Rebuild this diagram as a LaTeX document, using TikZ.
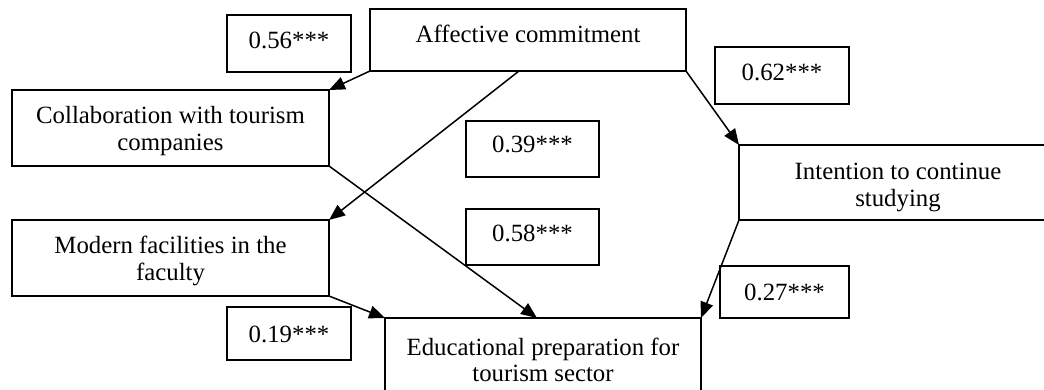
\documentclass[tikz,border=0pt]{standalone}
\usepackage{fontspec}
\setmainfont{Liberation Serif}
\usetikzlibrary{arrows.meta,calc}
\newcommand{\twolines}[2]{\parbox[t]{310pt}{\centering #1\\#2}}
\begin{document}
\begin{tikzpicture}[x=1pt,y=-1pt,
  box/.style={draw,line width=1.5pt,inner sep=0pt,outer sep=0pt,rectangle,
    font=\fontsize{24.8}{26.5}\selectfont},
  arr/.style={line width=1.5pt,-{Triangle[length=16pt,width=13pt]}}]
\useasboundingbox (0,0) rectangle (1044,390);
\clip (0,0) rectangle (1044,390);
% main boxes
\node[box,minimum width=316pt,text height=34pt,text depth=28pt] (aff) at (528,40) {Affective commitment};
\node[box,minimum width=317pt,text height=34pt,text depth=42pt] (collab) at (170.5,128) {\twolines{Collaboration with tourism}{companies}};
\node[box,minimum width=317pt,text height=34pt,text depth=42pt] (modern) at (170.5,258) {\twolines{Modern facilities in the}{faculty}};
\node[box,minimum width=318pt,text height=35pt,text depth=40pt] (intent) at (898,182.5) {\twolines{Intention to continue}{studying}};
\node[box,minimum width=316pt,text height=37pt,text depth=43pt] (educ) at (543,358) {\twolines{Educational preparation for}{tourism sector}};
% coefficient boxes
\node[box,minimum width=124pt,text height=34pt,text depth=23pt] (n56) at (289,43.5) {0.56***};
\node[box,minimum width=133pt,text height=32pt,text depth=24pt] (n39) at (532.5,149) {0.39***};
\node[box,minimum width=134pt,text height=34pt,text depth=23pt] (n62) at (782,75.5) {0.62***};
\node[box,minimum width=133pt,text height=32pt,text depth=24pt] (n58) at (532.5,237) {0.58***};
\node[box,minimum width=124pt,text height=35pt,text depth=18pt] (n19) at (289,333.5) {0.19***};
\node[box,minimum width=129pt,text height=34pt,text depth=18pt] (n27) at (784.5,292) {0.27***};
% arrows
\draw[arr] (aff.south west) -- (collab.north east);
\draw[arr] ($(aff.south)+(-9,0)$) -- (modern.north east);
\draw[arr] (aff.south east) -- (intent.north west);
\draw[arr] (collab.south east) -- ($(educ.north)+(-6,0)$);
\draw[arr] (modern.south east) -- (educ.north west);
\draw[arr] (intent.south west) -- (educ.north east);
\end{tikzpicture}
\end{document}
